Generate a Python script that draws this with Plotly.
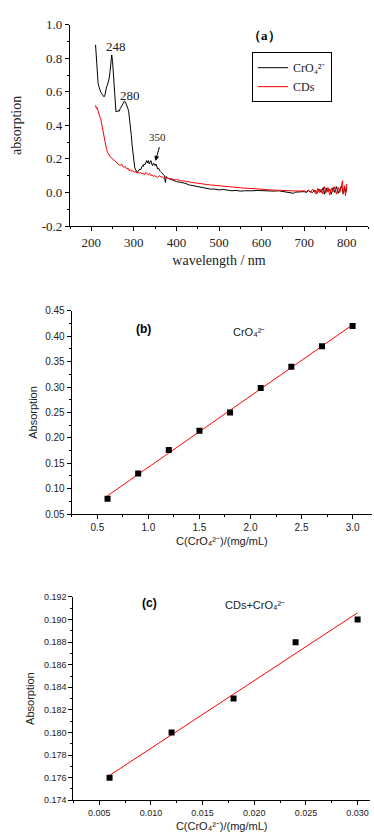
import plotly.graph_objects as go
import numpy as np

W, H = 374, 840

# ---------------- Panel (a) data: UV-vis spectra ----------------
wl_cro4 = [210, 212, 214, 216, 218, 220, 222, 224, 226, 228, 230, 232, 234, 236, 238, 240,
           242, 244, 246, 248, 250, 252, 254, 256, 258, 260, 262, 264, 266, 268, 270, 272,
           274, 276, 278, 280, 282, 284, 286, 288, 290, 292, 294, 296, 298, 300, 302, 304,
           306, 308, 310, 312, 314, 316, 318, 320, 322, 324, 326, 328, 330, 332, 334, 336,
           338, 340, 342, 344, 346, 348, 350, 352, 354, 356, 358, 360, 362, 364, 366, 368,
           370, 372, 374, 376, 378, 380, 385, 390, 395, 400, 410, 420, 430, 440, 450, 460,
           470, 480, 490, 500, 510, 520, 530, 540, 550, 560, 570, 580, 590, 600, 610, 620,
           630, 640, 650, 660, 670, 675, 680, 690, 700, 705, 710, 715, 720, 725, 730, 735,
           740, 745, 748, 752, 756, 760, 764, 768, 772, 776, 780, 784, 788, 792, 795, 798, 800]
abs_cro4 = [0.88, 0.78, 0.68, 0.65, 0.63, 0.61, 0.60, 0.59, 0.585, 0.58, 0.57, 0.58, 0.61, 0.63, 0.64, 0.66,
            0.68, 0.72, 0.76, 0.82, 0.78, 0.70, 0.60, 0.50, 0.48, 0.485, 0.48, 0.49, 0.485, 0.50, 0.51, 0.52,
            0.53, 0.54, 0.545, 0.54, 0.53, 0.51, 0.50, 0.48, 0.44, 0.40, 0.34, 0.28, 0.22, 0.18, 0.15, 0.135,
            0.125, 0.12, 0.125, 0.13, 0.14, 0.135, 0.15, 0.16, 0.155, 0.17, 0.165, 0.18, 0.19, 0.175, 0.19, 0.17,
            0.18, 0.19, 0.17, 0.16, 0.175, 0.165, 0.16, 0.17, 0.15, 0.14, 0.145, 0.13, 0.125, 0.12, 0.115, 0.11,
            0.105, 0.10, 0.06, 0.095, 0.09, 0.085, 0.08, 0.075, 0.07, 0.065, 0.06, 0.055, 0.045, 0.04, 0.035, 0.03,
            0.025, 0.02, 0.02, 0.015, 0.018, 0.012, 0.01, 0.012, 0.008, 0.01, 0.008, 0.01, 0.012, 0.01, 0.008, 0.01,
            0.008, 0.01, 0.006, 0.004, 0.0, -0.005, 0.002, 0.003, 0.005, 0.0, 0.01, 0.005, 0.0, 0.015, -0.005, 0.02,
            0.0, 0.03, -0.01, 0.025, 0.005, 0.02, -0.01, 0.03, 0.0, 0.035, -0.005, 0.02, 0.04, -0.01, 0.03, 0.0, 0.03]

wl_cds = [210, 212, 214, 216, 218, 220, 222, 224, 226, 228, 230, 232, 234, 236, 238, 240,
          242, 245, 248, 250, 253, 256, 259, 262, 265, 268, 271, 274, 277, 280, 283, 286,
          289, 292, 295, 298, 301, 304, 307, 310, 313, 316, 319, 322, 325, 328, 331, 334,
          337, 340, 343, 346, 349, 352, 355, 358, 361, 364, 367, 370, 375, 380, 385, 390,
          395, 400, 410, 420, 430, 440, 450, 460, 470, 480, 490, 500, 510, 520, 530, 540,
          550, 560, 570, 580, 590, 600, 610, 620, 630, 640, 650, 660, 670, 680, 690, 700,
          705, 710, 715, 720, 724, 728, 732, 736, 740, 744, 748, 752, 756, 760, 764, 768,
          772, 776, 780, 784, 788, 790, 792, 795, 797, 800]
abs_cds = [0.52, 0.50, 0.505, 0.48, 0.47, 0.45, 0.44, 0.41, 0.39, 0.36, 0.32, 0.30, 0.27, 0.255, 0.24, 0.23,
           0.225, 0.21, 0.205, 0.20, 0.19, 0.185, 0.175, 0.17, 0.165, 0.16, 0.17, 0.155, 0.15, 0.155, 0.14, 0.145,
           0.13, 0.135, 0.125, 0.13, 0.12, 0.125, 0.115, 0.12, 0.115, 0.12, 0.11, 0.115, 0.105, 0.12, 0.11, 0.105,
           0.115, 0.10, 0.105, 0.095, 0.10, 0.095, 0.09, 0.095, 0.10, 0.09, 0.092, 0.085, 0.09, 0.085, 0.08, 0.082,
           0.075, 0.078, 0.07, 0.068, 0.062, 0.058, 0.055, 0.05, 0.048, 0.045, 0.042, 0.04, 0.038, 0.035, 0.033, 0.03,
           0.028, 0.026, 0.025, 0.022, 0.02, 0.02, 0.018, 0.015, 0.016, 0.013, 0.012, 0.01, 0.008, 0.01, 0.008, 0.01,
           0.005, 0.015, 0.0, 0.02, 0.005, -0.01, 0.025, 0.0, 0.02, -0.01, 0.035, 0.0, 0.03, -0.015, 0.025, 0.005,
           0.035, -0.01, 0.03, 0.0, 0.045, 0.07, -0.01, 0.04, -0.02, 0.05]

a_yticks = [-0.2, 0.0, 0.2, 0.4, 0.6, 0.8, 1.0]
a_yticktext = ["-0.2", "0.0", "0.2", "0.4", "0.6", "0.8", "1.0"]
a_xticks = [200, 300, 400, 500, 600, 700, 800]

# ---------------- Panel (b) data: CrO4 calibration ----------------
conc_b = [0.6, 0.9, 1.2, 1.5, 1.8, 2.1, 2.4, 2.7, 3.0]
absn_b = [0.080, 0.130, 0.176, 0.214, 0.250, 0.298, 0.340, 0.380, 0.420]

# ---------------- Panel (c) data: CDs + CrO4 calibration ----------------
conc_c = [0.006, 0.012, 0.018, 0.024, 0.030]
absn_c = [0.176, 0.180, 0.183, 0.188, 0.190]

# linear fits
kb, bb = np.polyfit(conc_b, absn_b, 1)
kc, bc = np.polyfit(conc_c, absn_c, 1)
fit_bx = [min(conc_b), max(conc_b)]
fit_by = [kb * v + bb for v in fit_bx]
fit_cx = [min(conc_c), max(conc_c)]
fit_cy = [kc * v + bc for v in fit_cx]

SERIF = "Liberation Serif"
SANS = "Liberation Sans"
CRO4 = "CrO₄²⁻"

fig = go.Figure()
fig.add_trace(go.Scatter(x=wl_cro4, y=abs_cro4, mode="lines", name=CRO4,
                         line=dict(color="black", width=1), xaxis="x", yaxis="y"))
fig.add_trace(go.Scatter(x=wl_cds, y=abs_cds, mode="lines", name="CDs",
                         line=dict(color="red", width=1), xaxis="x", yaxis="y"))
fig.add_trace(go.Scatter(x=fit_bx, y=fit_by, mode="lines", showlegend=False,
                         line=dict(color="red", width=1), xaxis="x2", yaxis="y2"))
fig.add_trace(go.Scatter(x=conc_b, y=absn_b, mode="markers", showlegend=False,
                         marker=dict(symbol="square", size=6, color="black"), xaxis="x2", yaxis="y2"))
fig.add_trace(go.Scatter(x=fit_cx, y=fit_cy, mode="lines", showlegend=False,
                         line=dict(color="red", width=1), xaxis="x3", yaxis="y3"))
fig.add_trace(go.Scatter(x=conc_c, y=absn_c, mode="markers", showlegend=False,
                         marker=dict(symbol="square", size=6, color="black"), xaxis="x3", yaxis="y3"))


def px(p):
    return p / W


def py(p):
    return 1 - p / H


def axis_common(family, size):
    return dict(showline=True, linecolor="black", linewidth=1.3, ticks="outside",
                ticklen=4, tickwidth=1, tickcolor="black", showgrid=False, zeroline=False,
                tickfont=dict(family=family, size=size, color="#222"))


ax_a = axis_common(SERIF, 13)
ax_b = axis_common(SANS, 10)
ax_c = axis_common(SANS, 9)

fig.update_layout(
    width=W, height=H, autosize=False,
    margin=dict(l=0, r=0, t=0, b=0),
    paper_bgcolor="white", plot_bgcolor="white",
    showlegend=True,
    legend=dict(x=px(252), y=py(46), xanchor="left", yanchor="top",
                bordercolor="black", borderwidth=1, bgcolor="white",
                font=dict(family=SERIF, size=12, color="#222"),
                tracegroupgap=0, itemwidth=30),
    xaxis=dict(**ax_a, domain=[px(70), px(368)], range=[150, 850], anchor="y",
               tickvals=a_xticks, minor=dict(dtick=50, tick0=0, ticks="outside", ticklen=2, tickcolor="black"),
               title=dict(text="wavelength / nm", font=dict(family=SERIF, size=14, color="#222"), standoff=6)),
    yaxis=dict(**ax_a, domain=[py(223), py(18)], range=[-0.2, 1.0], anchor="x",
               tickvals=a_yticks, ticktext=a_yticktext,
               minor=dict(dtick=0.1, tick0=0, ticks="outside", ticklen=2, tickcolor="black"),
               title=dict(text="absorption", font=dict(family=SERIF, size=14, color="#222"), standoff=16)),
    xaxis2=dict(**ax_b, domain=[px(71.8), px(372)], range=[0.25, 3.19], anchor="y2",
                dtick=0.5, tick0=0, tickformat=".1f",
                minor=dict(dtick=0.25, tick0=0, ticks="outside", ticklen=2, tickcolor="black"),
                title=dict(text="C(" + CRO4 + ")/(mg/mL)", font=dict(family=SANS, size=11, color="#222"), standoff=5)),
    yaxis2=dict(**ax_b, domain=[py(516.3), py(309.3)], range=[0.05, 0.45], anchor="x2",
                dtick=0.05, tick0=0, tickformat=".2f",
                minor=dict(dtick=0.025, tick0=0, ticks="outside", ticklen=2, tickcolor="black"),
                title=dict(text="Absorption", font=dict(family=SANS, size=11, color="#222"), standoff=5)),
    xaxis3=dict(**ax_c, domain=[px(73.4), px(370)], range=[0.0025, 0.0312], anchor="y3",
                dtick=0.005, tick0=0, tickformat=".3f",
                minor=dict(dtick=0.0025, tick0=0, ticks="outside", ticklen=2, tickcolor="black"),
                title=dict(text="C(" + CRO4 + ")/(mg/mL)", font=dict(family=SANS, size=11, color="#222"), standoff=5)),
    yaxis3=dict(**ax_c, domain=[py(807.7), py(600.7)], range=[0.174, 0.192], anchor="x3",
                dtick=0.002, tick0=0, tickformat=".3f",
                minor=dict(dtick=0.001, tick0=0, ticks="outside", ticklen=2, tickcolor="black"),
                title=dict(text="Absorption", font=dict(family=SANS, size=11, color="#222"), standoff=7)),
)

ann = []
# panel (a) labels
ann.append(dict(text="<b>（a）</b>", x=px(282.7), y=py(26), xref="paper", yref="paper", yshift=7,
                showarrow=False, font=dict(family=SERIF, size=13, color="black")))
ann.append(dict(text="248", x=257.7, y=0.871, xref="x", yref="y", showarrow=False,
                font=dict(family=SERIF, size=13, color="#222")))
ann.append(dict(text="280", x=289.8, y=0.578, xref="x", yref="y", showarrow=False,
                font=dict(family=SERIF, size=13, color="#222")))
ann.append(dict(text="350", x=356, y=0.328, xref="x", yref="y", showarrow=False,
                font=dict(family=SERIF, size=11, color="#222")))
ann.append(dict(text=" ", x=350.7, y=0.188, xref="x", yref="y", ax=362, ay=0.288,
                axref="x", ayref="y", showarrow=True, arrowhead=2, arrowsize=1,
                arrowwidth=1, arrowcolor="black", font=dict(size=2)))
# panel (b)
ann.append(dict(text="<b>(b)</b>", x=px(143.3), y=py(327.7), xref="paper", yref="paper",
                showarrow=False, font=dict(family=SANS, size=12, color="black")))
ann.append(dict(text=CRO4, x=px(266.7), y=py(330.7), xref="paper", yref="paper",
                showarrow=False, font=dict(family=SANS, size=11, color="#222")))
# panel (c)
ann.append(dict(text="<b>(c)</b>", x=px(149), y=py(616), xref="paper", yref="paper",
                showarrow=False, font=dict(family=SANS, size=12, color="black")))
ann.append(dict(text="CDs+" + CRO4, x=px(286.7), y=py(616.7), xref="paper", yref="paper",
                showarrow=False, font=dict(family=SANS, size=11, color="#222")))
fig.update_layout(annotations=ann)

fig.write_html("out.html", config={"displayModeBar": False},
               post_script="document.body.style.margin='0';document.body.style.overflow='hidden';")
